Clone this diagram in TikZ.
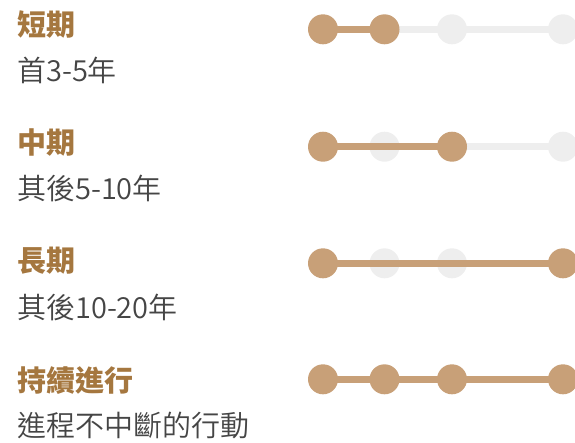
\documentclass[tikz,border=0pt]{standalone}
\usepackage{fontspec}
\newfontfamily\cjk{Noto Sans CJK TC}
\newfontfamily\cjklight{Noto Sans CJK TC DemiLight}
\definecolor{dotbrown}{HTML}{C8A078}
\definecolor{offgray}{HTML}{EEEEEE}
\definecolor{titlebrown}{HTML}{A5773F}
\definecolor{subgray}{HTML}{454545}
\tikzset{
	ondot/.style={circle, fill=dotbrown, minimum size=30pt, inner sep=0pt},
	offdot/.style={circle, fill=offgray, minimum size=30pt, inner sep=0pt},
	onbar/.style={line width=7pt, draw=dotbrown},
	offbar/.style={line width=7pt, draw=offgray},
	termtitle/.style={anchor=west, inner sep=0pt, text=titlebrown, font=\cjk\bfseries\fontsize{29}{29}\selectfont},
	termsub/.style={anchor=west, inner sep=0pt, text=subgray, font=\cjklight\fontsize{29}{29}\selectfont}
}
\begin{document}
\begin{tikzpicture}[x=1pt, y=-1pt]
		\useasboundingbox (0, 0) rectangle (575, 442);

		% textos de la izquierda
		\node[termtitle] (t1) at (17, 24.5) {短期};
		\node[termsub] (s1) at (17, 70) {首3-5年};
		\node[termtitle] (t2) at (17, 143) {中期};
		\node[termsub] (s2) at (17, 188.5) {其後5-10年};
		\node[termtitle] (t3) at (17, 261) {長期};
		\node[termsub] (s3) at (17, 307) {其後10-20年};
		\node[termtitle] (t4) at (17, 380.5) {持續進行};
		\node[termsub] (s4) at (17, 425.5) {進程不中斷的行動};

		% posiciones de los puntos
		\foreach \r/\y in {1/29.3, 2/146.7, 3/263.3, 4/379.3} {
			\coordinate (a\r) at (323, \y);
			\coordinate (b\r) at (384.5, \y);
			\coordinate (c\r) at (452, \y);
			\coordinate (d\r) at (563, \y);
		}

		% fila 1: a -- b
		\draw[offbar] (a1) -- (d1);
		\node[offdot] (c1n) at (c1) {};
		\node[offdot] (d1n) at (d1) {};
		\draw[onbar] (a1) -- (b1);
		\node[ondot] (a1n) at (a1) {};
		\node[ondot] (b1n) at (b1) {};

		% fila 2: a -- c
		\draw[offbar] (a2) -- (d2);
		\node[offdot] (b2n) at (b2) {};
		\node[offdot] (d2n) at (d2) {};
		\draw[onbar] (a2) -- (c2);
		\node[ondot] (a2n) at (a2) {};
		\node[ondot] (c2n) at (c2) {};

		% fila 3: a -- d
		\node[offdot] (b3n) at (b3) {};
		\node[offdot] (c3n) at (c3) {};
		\draw[onbar] (a3) -- (d3);
		\node[ondot] (a3n) at (a3) {};
		\node[ondot] (d3n) at (d3) {};

		% fila 4: todos
		\draw[onbar] (a4) -- (d4);
		\foreach \p in {a, b, c, d}
			\node[ondot] (\p4n) at (\p4) {};
	\end{tikzpicture}
\end{document}
